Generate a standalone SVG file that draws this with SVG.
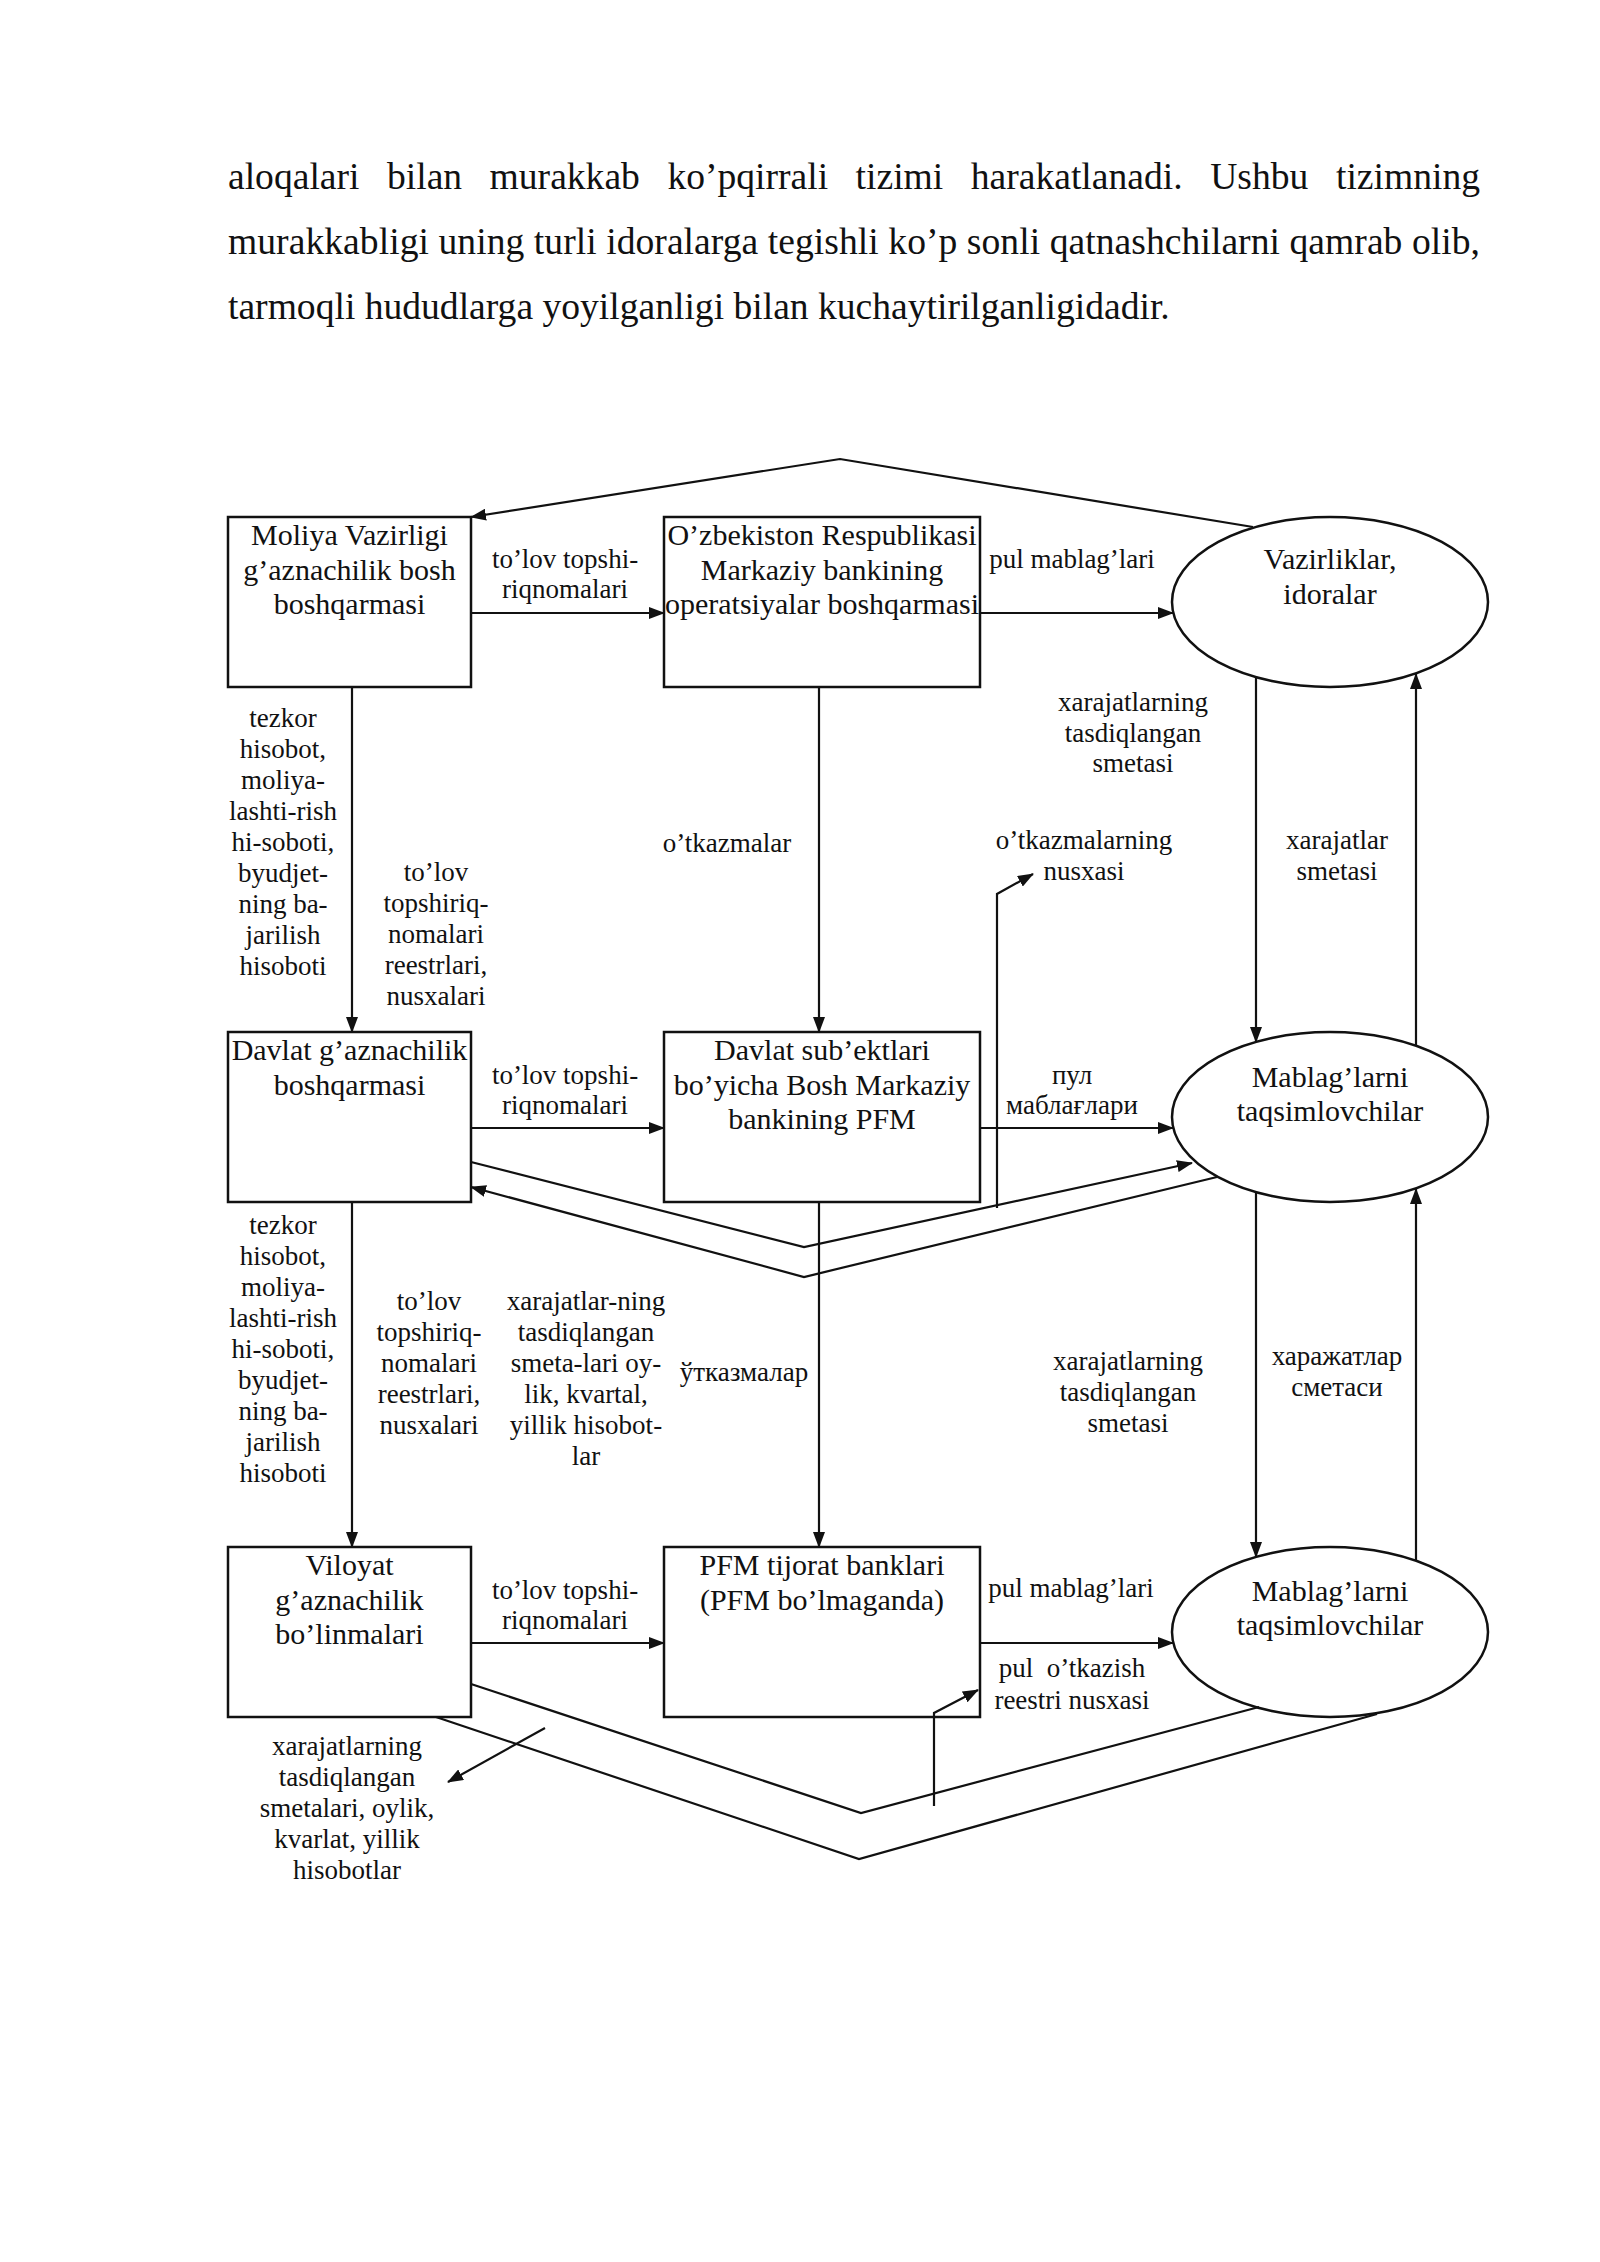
<svg xmlns="http://www.w3.org/2000/svg" width="1600" height="2262" viewBox="0 0 1600 2262">
<style>
text{font-family:"Liberation Serif","Times New Roman",serif;fill:#111}
.body{font-size:37.6px}
.bx{font-size:30px;text-anchor:middle}
.lb{font-size:27px;text-anchor:middle}
.node rect,.node ellipse{fill:#fff;stroke:#111;stroke-width:2.5}
.cn{fill:none;stroke:#111;stroke-width:2.2}
.ar{marker-end:url(#ah)}
</style>
<defs>
<marker id="ah" viewBox="0 0 16 12" refX="15" refY="6" markerWidth="16" markerHeight="12" markerUnits="userSpaceOnUse" orient="auto">
<path d="M0,0 L16,6 L0,12 z" fill="#111"/>
</marker>
</defs>
<rect width="1600" height="2262" fill="#fff"/>
<g id="paragraph">
<text class="body" y="189"><tspan x="228">aloqalari</tspan><tspan x="387">bilan</tspan><tspan x="489.6">murakkab</tspan><tspan x="667.4">ko’pqirrali</tspan><tspan x="855.6">tizimi</tspan><tspan x="970.8">harakatlanadi.</tspan><tspan x="1210.2">Ushbu</tspan></text>
<text class="body" x="1480" y="189" text-anchor="end">tizimning</text>
<text class="body" x="228" y="254" textLength="1252" lengthAdjust="spacing">murakkabligi uning turli idoralarga tegishli ko’p sonli qatnashchilarni qamrab olib,</text>
<text class="body" x="228" y="319">tarmoqli hududlarga yoyilganligi bilan kuchaytirilganligidadir.</text>
</g>
<g id="moliya" class="node">
<rect x="228" y="517" width="243" height="170"/>
<text class="bx" x="349.5" y="545">Moliya Vazirligi</text>
<text class="bx" x="349.5" y="579.5">g’aznachilik bosh</text>
<text class="bx" x="349.5" y="614">boshqarmasi</text>
</g>
<g id="markaziy-bank" class="node">
<rect x="664" y="517" width="316" height="170"/>
<text class="bx" x="822" y="545">O’zbekiston Respublikasi</text>
<text class="bx" x="822" y="579.5">Markaziy bankining</text>
<text class="bx" x="822" y="614">operatsiyalar boshqarmasi</text>
</g>
<g id="vazirliklar" class="node">
<ellipse cx="1330" cy="602" rx="158" ry="85"/>
<text class="bx" x="1330" y="569">Vazirliklar,</text>
<text class="bx" x="1330" y="604">idoralar</text>
</g>
<g id="davlat-gaznachilik" class="node">
<rect x="228" y="1032" width="243" height="170"/>
<text class="bx" x="349.5" y="1060">Davlat g’aznachilik</text>
<text class="bx" x="349.5" y="1094.5">boshqarmasi</text>
</g>
<g id="davlat-subektlari" class="node">
<rect x="664" y="1032" width="316" height="170"/>
<text class="bx" x="822" y="1060">Davlat sub’ektlari</text>
<text class="bx" x="822" y="1094.5">bo’yicha Bosh Markaziy</text>
<text class="bx" x="822" y="1129">bankining PFM</text>
</g>
<g id="taqsimlovchilar-1" class="node">
<ellipse cx="1330" cy="1117" rx="158" ry="85"/>
<text class="bx" x="1330" y="1087">Mablag’larni</text>
<text class="bx" x="1330" y="1121">taqsimlovchilar</text>
</g>
<g id="viloyat" class="node">
<rect x="228" y="1547" width="243" height="170"/>
<text class="bx" x="349.5" y="1575">Viloyat</text>
<text class="bx" x="349.5" y="1609.5">g’aznachilik</text>
<text class="bx" x="349.5" y="1644">bo’linmalari</text>
</g>
<g id="pfm-tijorat" class="node">
<rect x="664" y="1547" width="316" height="170"/>
<text class="bx" x="822" y="1575">PFM tijorat banklari</text>
<text class="bx" x="822" y="1609.5">(PFM bo’lmaganda)</text>
</g>
<g id="taqsimlovchilar-2" class="node">
<ellipse cx="1330" cy="1632" rx="158" ry="85"/>
<text class="bx" x="1330" y="1601">Mablag’larni</text>
<text class="bx" x="1330" y="1635">taqsimlovchilar</text>
</g>
<g id="connectors">
<polyline class="cn ar" points="1253,527 840,459 471,517"/>
<line class="cn ar" x1="471" y1="613" x2="664" y2="613"/>
<line class="cn ar" x1="980" y1="613" x2="1173" y2="613"/>
<line class="cn ar" x1="352" y1="687" x2="352" y2="1032"/>
<line class="cn ar" x1="819" y1="687" x2="819" y2="1032"/>
<line class="cn ar" x1="1256" y1="676" x2="1256" y2="1042"/>
<line class="cn ar" x1="1416" y1="1046" x2="1416" y2="674"/>
<polyline class="cn ar" points="997,1208 997,894 1033,874"/>
<line class="cn ar" x1="471" y1="1128" x2="664" y2="1128"/>
<line class="cn ar" x1="980" y1="1128" x2="1173" y2="1128"/>
<polyline class="cn ar" points="471,1162 804,1247 1192,1163"/>
<polyline class="cn ar" points="1217,1177 804,1277 471,1187"/>
<line class="cn ar" x1="352" y1="1202" x2="352" y2="1547"/>
<line class="cn ar" x1="819" y1="1202" x2="819" y2="1547"/>
<line class="cn ar" x1="1256" y1="1192" x2="1256" y2="1557"/>
<line class="cn ar" x1="1416" y1="1561" x2="1416" y2="1189"/>
<line class="cn ar" x1="471" y1="1643" x2="664" y2="1643"/>
<line class="cn ar" x1="980" y1="1643" x2="1173" y2="1643"/>
<polyline class="cn" points="471,1684 861,1813 1259,1707"/>
<polyline class="cn" points="436,1717 859,1859 1377,1714"/>
<line class="cn ar" x1="545" y1="1728" x2="448" y2="1782"/>
<polyline class="cn ar" points="934,1806 934,1713 978,1690"/>
</g>
<g id="labels">
<text class="lb" x="565" y="568">to’lov topshi-</text>
<text class="lb" x="565" y="598">riqnomalari</text>
<text class="lb" x="1072" y="568">pul mablag’lari</text>
<text class="lb" x="283" y="727">tezkor</text>
<text class="lb" x="283" y="758">hisobot,</text>
<text class="lb" x="283" y="789">moliya-</text>
<text class="lb" x="283" y="820">lashti-rish</text>
<text class="lb" x="283" y="851">hi-soboti,</text>
<text class="lb" x="283" y="882">byudjet-</text>
<text class="lb" x="283" y="913">ning ba-</text>
<text class="lb" x="283" y="944">jarilish</text>
<text class="lb" x="283" y="975">hisoboti</text>
<text class="lb" x="436" y="881">to’lov</text>
<text class="lb" x="436" y="912">topshiriq-</text>
<text class="lb" x="436" y="943">nomalari</text>
<text class="lb" x="436" y="974">reestrlari,</text>
<text class="lb" x="436" y="1005">nusxalari</text>
<text class="lb" x="727" y="852">o’tkazmalar</text>
<text class="lb" x="1133" y="711">xarajatlarning</text>
<text class="lb" x="1133" y="742">tasdiqlangan</text>
<text class="lb" x="1133" y="772">smetasi</text>
<text class="lb" x="1084" y="849">o’tkazmalarning</text>
<text class="lb" x="1084" y="880">nusxasi</text>
<text class="lb" x="1337" y="849">xarajatlar</text>
<text class="lb" x="1337" y="880">smetasi</text>
<text class="lb" x="565" y="1084">to’lov topshi-</text>
<text class="lb" x="565" y="1114">riqnomalari</text>
<text class="lb" x="1072" y="1084">пул</text>
<text class="lb" x="1072" y="1114">маблағлари</text>
<text class="lb" x="283" y="1234">tezkor</text>
<text class="lb" x="283" y="1265">hisobot,</text>
<text class="lb" x="283" y="1296">moliya-</text>
<text class="lb" x="283" y="1327">lashti-rish</text>
<text class="lb" x="283" y="1358">hi-soboti,</text>
<text class="lb" x="283" y="1389">byudjet-</text>
<text class="lb" x="283" y="1420">ning ba-</text>
<text class="lb" x="283" y="1451">jarilish</text>
<text class="lb" x="283" y="1482">hisoboti</text>
<text class="lb" x="429" y="1310">to’lov</text>
<text class="lb" x="429" y="1341">topshiriq-</text>
<text class="lb" x="429" y="1372">nomalari</text>
<text class="lb" x="429" y="1403">reestrlari,</text>
<text class="lb" x="429" y="1434">nusxalari</text>
<text class="lb" x="586" y="1310">xarajatlar-ning</text>
<text class="lb" x="586" y="1341">tasdiqlangan</text>
<text class="lb" x="586" y="1372">smeta-lari oy-</text>
<text class="lb" x="586" y="1403">lik, kvartal,</text>
<text class="lb" x="586" y="1434">yillik hisobot-</text>
<text class="lb" x="586" y="1465">lar</text>
<text class="lb" x="744" y="1381">ўтказмалар</text>
<text class="lb" x="1128" y="1370">xarajatlarning</text>
<text class="lb" x="1128" y="1401">tasdiqlangan</text>
<text class="lb" x="1128" y="1432">smetasi</text>
<text class="lb" x="1337" y="1365">харажатлар</text>
<text class="lb" x="1337" y="1396">сметаси</text>
<text class="lb" x="565" y="1599">to’lov topshi-</text>
<text class="lb" x="565" y="1629">riqnomalari</text>
<text class="lb" x="1071" y="1597">pul mablag’lari</text>
<text class="lb" x="1072" y="1677" xml:space="preserve">pul  o’tkazish</text>
<text class="lb" x="1072" y="1709">reestri nusxasi</text>
<text class="lb" x="347" y="1755">xarajatlarning</text>
<text class="lb" x="347" y="1786">tasdiqlangan</text>
<text class="lb" x="347" y="1817">smetalari, oylik,</text>
<text class="lb" x="347" y="1848">kvarlat, yillik</text>
<text class="lb" x="347" y="1879">hisobotlar</text>
</g>
</svg>
